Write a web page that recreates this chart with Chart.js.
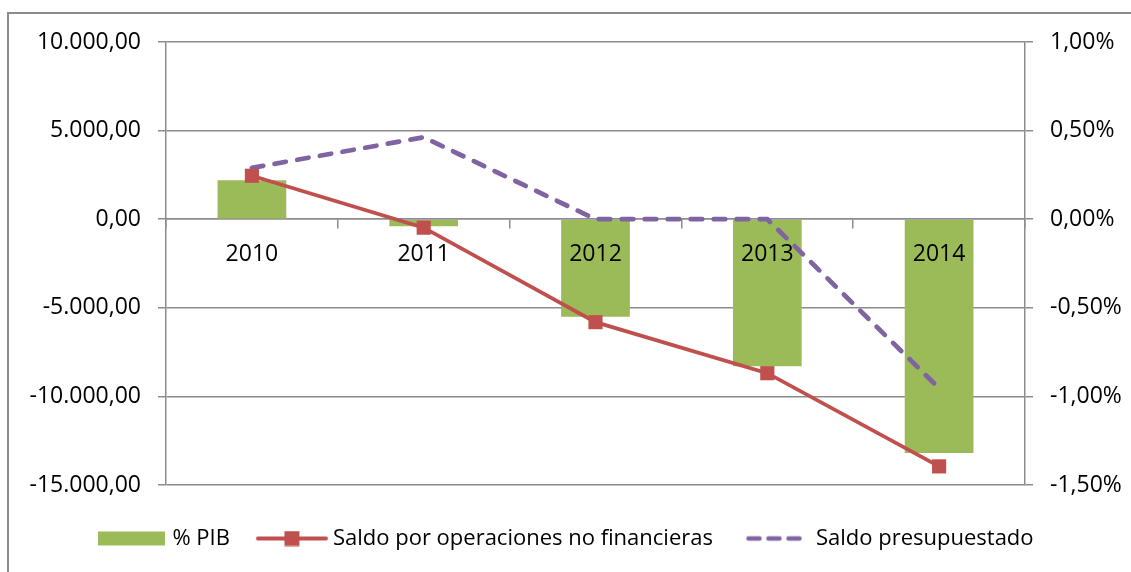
<!DOCTYPE html>
<html>
<head>
<meta charset="utf-8">
<title>Saldo por operaciones no financieras</title>
<script src="https://cdn.jsdelivr.net/npm/chart.js@4.4.1/dist/chart.umd.min.js"></script>
<style>
    html, body { margin: 0; padding: 0; background: #fff; overflow: hidden; }
    #divChartSaldo { position: relative; width: 1131px; height: 572px; }
    #chartFrame { position: absolute; left: 7px; top: 12px; width: 1200px; height: 700px; border: 2px solid #8c8c8c; }
    #chartSaldo { position: absolute; left: 0; top: 0; }
</style>
</head>
<body>
<div id="divChartSaldo">
    <div id="chartFrame"></div>
    <canvas id="chartSaldo" width="1131" height="572"></canvas>
</div>
<script>
// values
var years = ['2010', '2011', '2012', '2013', '2014'];
var pctPib = [0.22, -0.04, -0.55, -0.83, -1.32];                    // % PIB (right axis)
var saldoOperaciones = [2450, -480, -5810, -8690, -13950];          // left axis
var saldoPresupuestado = [2900, 4620, 0, 0, -9540];                 // left axis

var leftMin = -15000, leftMax = 10000, leftStep = 5000;
var rightMin = -1.5, rightMax = 1.0, rightStep = 0.5;

var green = '#9BBB59', red = '#C0504D', purple = '#8064A2';
var gridColor = '#8c8c8c';

Chart.defaults.font.family = '"Open Sans", sans-serif';
Chart.defaults.color = '#000';

// 10.000,00 style numbers
function fmtNum(v) {
    var parts = Math.abs(v).toFixed(2).split('.');
    var intPart = parts[0].replace(/\B(?=(\d{3})+(?!\d))/g, '.');
    return (v < 0 ? '-' : '') + intPart + ',' + parts[1];
}

function fmtPct(v) {
    return (Math.abs(v) < 1e-9 ? 0 : v).toFixed(2).replace('.', ',') + '%';
}

// small canvases used as legend symbols (bar box, line with marker, dashes)
function makeLegendIcon(kind) {
    var shift = 6;
    var w = { bar: 67, line: 72, dash: 57 }[kind];
    var c = document.createElement('canvas');
    c.width = w + 2 * shift;
    c.height = 16;
    var g = c.getContext('2d');
    var x0 = 2 * shift;
    if (kind === 'bar') {
        g.fillStyle = green;
        g.fillRect(x0, 1, w, 14);
    } else if (kind === 'line') {
        g.strokeStyle = red;
        g.lineWidth = 4;
        g.lineCap = 'round';
        g.beginPath();
        g.moveTo(x0 + 2, 8);
        g.lineTo(x0 + w - 2, 8);
        g.stroke();
        g.fillStyle = red;
        g.fillRect(x0 + w / 2 - 7.5, 0.5, 15, 15);
    } else {
        g.strokeStyle = purple;
        g.lineWidth = 4.5;
        g.lineCap = 'round';
        for (var i = 0; i < 3; i++) {
            g.beginPath();
            g.moveTo(x0 + 2 + i * 20, 8);
            g.lineTo(x0 + 13 + i * 20, 8);
            g.stroke();
        }
    }
    return c;
}

var legendIcons = [makeLegendIcon('bar'), makeLegendIcon('line'), makeLegendIcon('dash')];

var ctx = document.getElementById('chartSaldo');
// combo bar/line chart
var myChartSaldo = new Chart(ctx, {
    type: 'bar',
    data: {
        labels: years,
        datasets: [{
            label: '% PIB',
            data: pctPib,
            yAxisID: 'y1',
            backgroundColor: green,
            barPercentage: 0.4,
            categoryPercentage: 1,
            order: 3
            }, {
            label: 'Saldo por operaciones no financieras',
            type: 'line',
            data: saldoOperaciones,
            yAxisID: 'y',
            borderColor: red,
            backgroundColor: red,
            borderWidth: 3.75,
            pointStyle: 'rect',
            pointRadius: 10,
            pointBorderWidth: 0,
            tension: 0,
            fill: false,
            order: 1
            }, {
            label: 'Saldo presupuestado',
            type: 'line',
            data: saldoPresupuestado,
            yAxisID: 'y',
            borderColor: purple,
            backgroundColor: purple,
            borderWidth: 4.75,
            borderDash: [11.5, 11.5],
            borderCapStyle: 'round',
            pointRadius: 0,
            tension: 0,
            fill: false,
            order: 2
            }
        ]
    },
    options: {
        responsive: false,
        animation: false,
        layout: {
            padding: { left: 0, right: 8, top: 42, bottom: 12.5 }
        },
        plugins: {
            tooltip: { enabled: false },
            legend: {
                position: 'bottom',
                title: { display: true, text: '', padding: 0, font: { size: 10, lineHeight: '22.5px' } },
                labels: {
                    usePointStyle: true,
                    pointStyleWidth: 72,
                    padding: 20,
                    font: { size: 22 },
                    sort: function(a, b) { return a.datasetIndex - b.datasetIndex; },
                    generateLabels: function(chart) {
                        var items = Chart.defaults.plugins.legend.labels.generateLabels(chart);
                        items.forEach(function(item) {
                            item.pointStyle = legendIcons[item.datasetIndex];
                        });
                        return items;
                    }
                }
            }
        },
        scales: {
            x: {
                position: { y: 0 },
                offset: true,
                grid: { offset: true, drawOnChartArea: false, drawTicks: true, tickLength: 9, color: gridColor, lineWidth: 1.5 },
                border: { display: true, color: gridColor, width: 1.5 },
                // labels sit on top of the bars
                ticks: { font: { size: 23 }, padding: 12, z: 1 }
            },
            y: {
                position: 'left',
                min: leftMin,
                max: leftMax,
                ticks: { stepSize: leftStep, font: { size: 23 }, padding: 17, callback: fmtNum },
                grid: { color: gridColor, lineWidth: 1.5, tickLength: 8 },
                border: { display: true, color: gridColor, width: 1.5 },
                afterFit: function(scale) { scale.width = 166; }
            },
            y1: {
                position: 'right',
                min: rightMin,
                max: rightMax,
                ticks: { stepSize: rightStep, font: { size: 23 }, padding: 17, callback: fmtPct },
                grid: { drawOnChartArea: false, color: gridColor, lineWidth: 1.5, tickLength: 8 },
                border: { display: true, color: gridColor, width: 1.5 },
                afterFit: function(scale) { scale.width = 98; }
            }
        }
    }
});
</script>
</body>
</html>
